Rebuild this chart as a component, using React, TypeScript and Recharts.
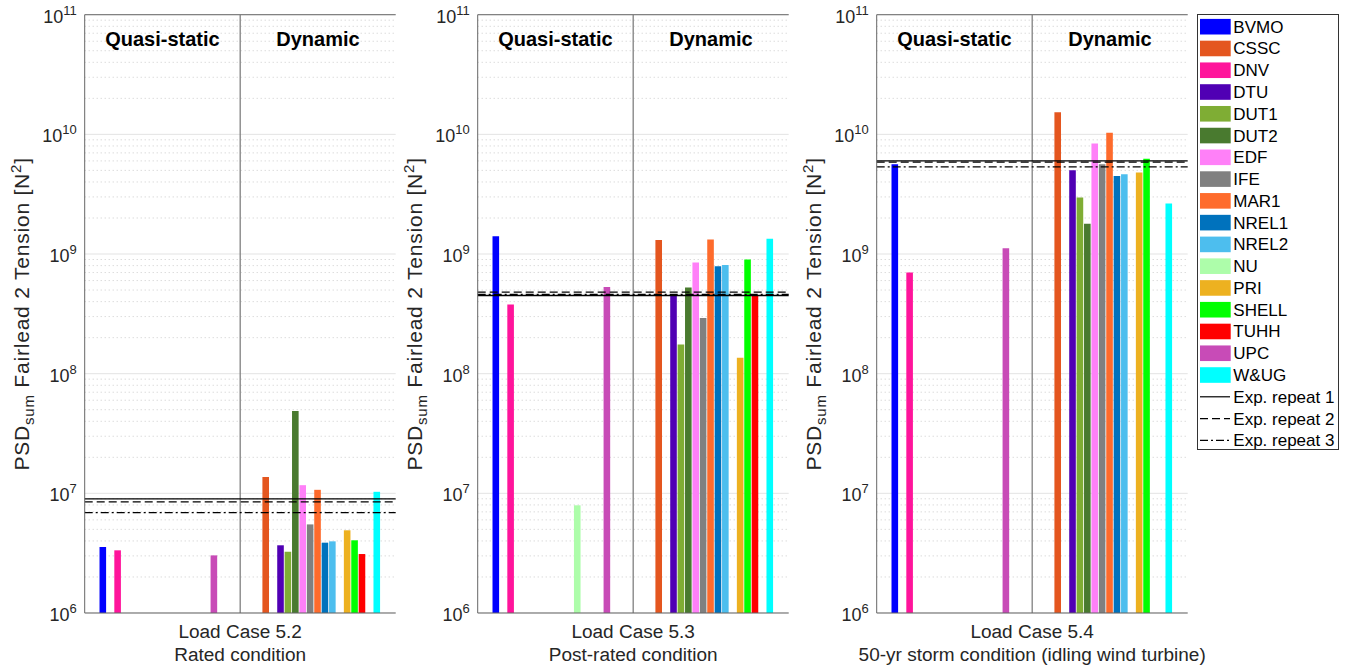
import React from "react";
import {
  ComposedChart,
  Bar,
  Cell,
  XAxis,
  YAxis,
  CartesianGrid,
  ReferenceLine,
} from "recharts";

const FONT = '"Liberation Sans", Arial, Helvetica, sans-serif';

const CODES = [
  "BVMO", "CSSC", "DNV", "DTU", "DUT1", "DUT2", "EDF", "IFE", "MAR1",
  "NREL1", "NREL2", "NU", "PRI", "SHELL", "TUHH", "UPC", "W&UG",
];
const CODE_COLORS = [
  "#0000ff", "#e4561f", "#ff149b", "#5000b4", "#7fad34", "#497a2f",
  "#ff80f8", "#808080", "#fe6b2c", "#0072bd", "#4dbeee", "#adfdaa",
  "#edb120", "#00ff00", "#ff0000", "#c84bb7", "#00ffff",
];

// LC 5.2 rated
const LC52_QUASI = [3.56e6, null, 3.34e6, null, null, null, null, null, null, null, null, null, null, null, null, 3.03e6, null];
const LC52_DYNAMIC = [null, 1.37e7, null, 3.68e6, 3.25e6, 4.87e7, 1.17e7, 5.5e6, 1.07e7, 3.87e6, 3.97e6, null, 4.91e6, 4.05e6, 3.11e6, null, 1.03e7];
const LC52_EXP = [9.0e6, 8.5e6, 6.9e6];

// LC 5.3 post-rated
const LC53_QUASI = [1.41e9, null, 3.79e8, null, null, null, null, null, null, null, null, 7.94e6, null, null, null, 5.29e8, null];
const LC53_DYNAMIC = [null, 1.31e9, null, 4.54e8, 1.75e8, 5.26e8, 8.5e8, 2.92e8, 1.32e9, 7.9e8, 8.1e8, null, 1.36e8, 9.0e8, 4.54e8, null, 1.34e9];
const LC53_EXP = [4.5e8, 4.8e8, 4.6e8];

// LC 5.4 50-yr storm
const LC54_QUASI = [5.64e9, null, 7.0e8, null, null, null, null, null, null, null, null, null, null, null, null, 1.12e9, null];
const LC54_DYNAMIC = [null, 1.53e10, null, 5.02e9, 2.97e9, 1.79e9, 8.4e9, 5.64e9, 1.03e10, 4.48e9, 4.65e9, null, 4.8e9, 6.24e9, null, null, 2.65e9];
const LC54_EXP = [6.0e9, 5.86e9, 5.35e9];

const EXP_LABELS = ["Exp. repeat 1", "Exp. repeat 2", "Exp. repeat 3"];
const EXP_DASH = [undefined, "8 4", "8 3 2 3"];

const DOMAIN: [number, number] = [1e6, 1e11];
const MAJOR = [1e6, 1e7, 1e8, 1e9, 1e10, 1e11];
const MINOR: number[] = [];
MAJOR.slice(0, -1).forEach((d) => {
  for (let m = 2; m <= 9; m++) MINOR.push(m * d);
});

// 42 slots: quasi-static block on the left half, dynamic block on the right half
const SLOTS = 42;
const QS_START = 2;
const DYN_START = 23;

function buildRows(quasi: (number | null)[], dynamic: (number | null)[]) {
  const rows: { slot: number; value: number | null; color: string }[] = [];
  for (let s = 0; s < SLOTS; s++) rows.push({ slot: s, value: null, color: "none" });
  quasi.forEach((v, i) => {
    rows[QS_START + i] = { slot: QS_START + i, value: v, color: CODE_COLORS[i] };
  });
  dynamic.forEach((v, i) => {
    rows[DYN_START + i] = { slot: DYN_START + i, value: v, color: CODE_COLORS[i] };
  });
  return rows;
}

const PowerTick = (props: any) => {
  const { x, y, payload } = props;
  const exp = Math.round(Math.log10(payload.value));
  return (
    <text x={x} y={y} textAnchor="end" fill="#262626" fontSize={18} fontFamily={FONT}>
      <tspan dy={8}>10</tspan>
      <tspan dy={-8} fontSize={13}>{exp}</tspan>
    </text>
  );
};

const NoTick = () => <g />;

const YLabel = (props: any) => {
  const { viewBox } = props;
  const cx = viewBox.x + viewBox.width - 63;
  const cy = viewBox.y + viewBox.height / 2;
  return (
    <text
      transform={`translate(${cx},${cy}) rotate(-90)`}
      y={7}
      textAnchor="middle"
      fill="#262626"
      fontSize={21}
      letterSpacing={0.8}
      fontFamily={FONT}
    >
      <tspan>PSD</tspan>
      <tspan fontSize={15} dy={5}>sum</tspan>
      <tspan dy={-5}> Fairlead 2 Tension [N</tspan>
      <tspan fontSize={15} dy={-8}>2</tspan>
      <tspan dy={8}>]</tspan>
    </text>
  );
};

const XLabel = (props: any) => {
  const { viewBox, lines } = props;
  const cx = viewBox.x + viewBox.width / 2;
  return (
    <text textAnchor="middle" fill="#262626" fontSize={19} fontFamily={FONT}>
      <tspan x={cx} y={viewBox.y + 24.7}>{lines[0]}</tspan>
      <tspan x={cx} y={viewBox.y + 47.7}>{lines[1]}</tspan>
    </text>
  );
};

const RegionLabel = (props: any) => {
  const { viewBox, text } = props;
  return (
    <text
      x={viewBox.x}
      y={viewBox.y + 31.5}
      textAnchor="middle"
      fill="#000"
      fontSize={20}
      fontWeight="bold"
      fontFamily={FONT}
    >
      {text}
    </text>
  );
};

type PanelProps = {
  left: number;
  marginLeft: number;
  marginRight: number;
  quasi: (number | null)[];
  dynamic: (number | null)[];
  exp: number[];
  lines: string[];
};

const BOX = "#666666";

const Panel: React.FC<PanelProps> = ({ left, marginLeft, marginRight, quasi, dynamic, exp, lines }) => {
  const rows = buildRows(quasi, dynamic);
  const width = marginLeft + 70 + 311 + marginRight;
  return (
    <div style={{ position: "absolute", left, top: 0 }}>
      <ComposedChart
        width={width}
        height={668}
        data={rows}
        margin={{ top: 14.7, right: marginRight, bottom: 0, left: marginLeft }}
        barCategoryGap={0}
      >
        <XAxis
          xAxisId="cat"
          dataKey="slot"
          type="category"
          height={55}
          tick={false}
          tickLine={false}
          axisLine={{ stroke: BOX, strokeWidth: 1 }}
          label={<XLabel lines={lines} />}
        />
        <YAxis
          yAxisId="main"
          scale="log"
          domain={DOMAIN}
          allowDataOverflow
          ticks={MAJOR}
          interval={0}
          width={70}
          tickLine={false}
          tick={<PowerTick />}
          axisLine={{ stroke: BOX, strokeWidth: 1 }}
          label={<YLabel />}
        />
        <YAxis yAxisId="lmaj" scale="log" domain={DOMAIN} allowDataOverflow ticks={MAJOR} interval={0}
          mirror width={0} tickSize={5} tick={<NoTick />} axisLine={false} tickLine={{ stroke: BOX }} />
        <YAxis yAxisId="lmin" scale="log" domain={DOMAIN} allowDataOverflow ticks={MINOR} interval={0}
          mirror width={0} tickSize={3} tick={<NoTick />} axisLine={false} tickLine={{ stroke: BOX }} />
        <YAxis yAxisId="rmaj" orientation="right" scale="log" domain={DOMAIN} allowDataOverflow ticks={MAJOR} interval={0}
          mirror width={0} tickSize={5} tick={<NoTick />} axisLine={{ stroke: BOX }} tickLine={{ stroke: BOX }} />
        <YAxis yAxisId="rmin" orientation="right" scale="log" domain={DOMAIN} allowDataOverflow ticks={MINOR} interval={0}
          mirror width={0} tickSize={3} tick={<NoTick />} axisLine={false} tickLine={{ stroke: BOX }} />
        <CartesianGrid xAxisId="cat" yAxisId="main" vertical={false} horizontalValues={MAJOR} stroke="#e3e3e3" />
        <CartesianGrid xAxisId="cat" yAxisId="main" vertical={false} horizontalValues={MINOR} stroke="#cccccc" strokeDasharray="1 3" />
        <ReferenceLine xAxisId="cat" yAxisId="main" y={1e11} stroke={BOX} />
        <Bar
          xAxisId="cat"
          yAxisId="main"
          dataKey="value"
          barSize={6.6}
          isAnimationActive={false}
        >
          {rows.map((r, i) => (
            <Cell key={`c-${i}`} fill={r.color} />
          ))}
        </Bar>
        <ReferenceLine xAxisId="cat" yAxisId="main" x={SLOTS / 2} position="start" stroke="#808080" strokeWidth={1.3} />
        <ReferenceLine xAxisId="cat" yAxisId="main" x={10} stroke="none" label={<RegionLabel text="Quasi-static" />} />
        <ReferenceLine xAxisId="cat" yAxisId="main" x={31} stroke="none" label={<RegionLabel text="Dynamic" />} />
        {exp.map((v, i) => (
          <ReferenceLine
            key={`exp-${i}`}
            xAxisId="cat"
            yAxisId="main"
            y={v}
            stroke="#000"
            strokeWidth={1.3}
            strokeDasharray={EXP_DASH[i]}
          />
        ))}
      </ComposedChart>
    </div>
  );
};

const LegendBox: React.FC = () => {
  const rowH = 21.77;
  return (
    <svg
      style={{ position: "absolute", left: 1197, top: 14 }}
      width={142}
      height={436}
    >
      <rect x={0.5} y={0.5} width={141} height={435} fill="#fff" stroke="#333" />
      {CODES.map((c, i) => {
        const cy = 12.7 + i * rowH;
        return (
          <g key={c}>
            <rect x={3} y={cy - 7.8} width={30.7} height={15.6} fill={CODE_COLORS[i]} />
            <text x={36.3} y={cy + 6} fontSize={17} fontFamily={FONT} fill="#000">{c}</text>
          </g>
        );
      })}
      {EXP_LABELS.map((l, j) => {
        const cy = 12.7 + (CODES.length + j) * rowH;
        return (
          <g key={l}>
            <line x1={3} x2={33} y1={cy} y2={cy} stroke="#000" strokeWidth={1.2} strokeDasharray={EXP_DASH[j]} />
            <text x={36.3} y={cy + 6} fontSize={17} fontFamily={FONT} fill="#000">{l}</text>
          </g>
        );
      })}
    </svg>
  );
};

export default function App() {
  return (
    <div style={{ position: "absolute", left: 0, top: 0, width: 1346, height: 668, background: "#fff" }}>
      <Panel left={0} marginLeft={14.7} marginRight={2} quasi={LC52_QUASI} dynamic={LC52_DYNAMIC} exp={LC52_EXP}
        lines={["Load Case 5.2", "Rated condition"]} />
      <Panel left={400} marginLeft={7.7} marginRight={2} quasi={LC53_QUASI} dynamic={LC53_DYNAMIC} exp={LC53_EXP}
        lines={["Load Case 5.3", "Post-rated condition"]} />
      <Panel left={795} marginLeft={11.7} marginRight={60} quasi={LC54_QUASI} dynamic={LC54_DYNAMIC} exp={LC54_EXP}
        lines={["Load Case 5.4", "50-yr storm condition (idling wind turbine)"]} />
      <LegendBox />
    </div>
  );
}
